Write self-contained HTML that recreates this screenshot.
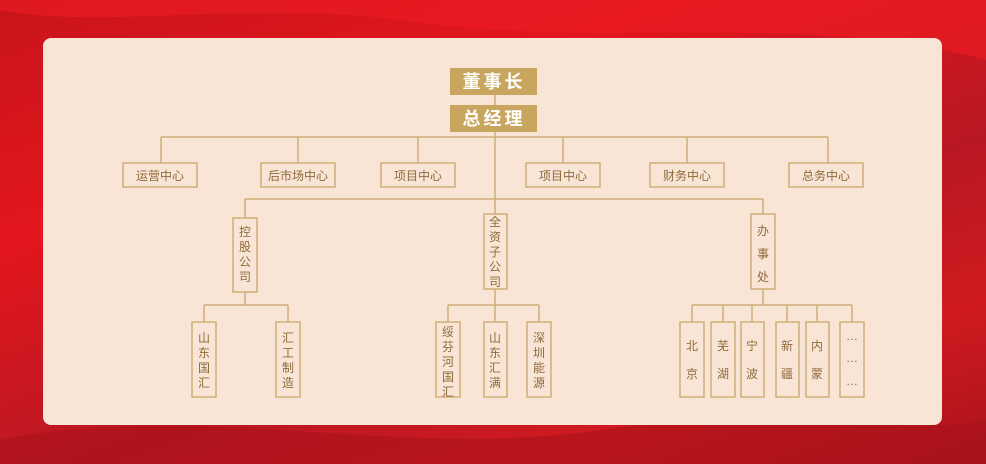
<!DOCTYPE html>
<html><head><meta charset="utf-8"><style>
html,body{margin:0;padding:0;width:986px;height:464px;overflow:hidden}
body{background:linear-gradient(160deg,#c8141c 0%,#e3161e 30%,#b81822 60%,#d01a20 80%,#a8141a 100%)}
svg{position:absolute;left:0;top:0}
text{font-family:"Liberation Sans","Noto Sans CJK SC",sans-serif;fill:#8f6a3c;font-size:12px;text-anchor:middle}
</style></head><body>
<svg width="986" height="464" viewBox="0 0 986 464">
<defs><linearGradient id="w" x1="0" y1="0" x2="1" y2="1">
<stop offset="0" stop-color="#e8202a"/><stop offset="1" stop-color="#a01016"/></linearGradient></defs>
<path d="M0,0 L986,0 L986,60 C800,10 600,50 400,20 C250,0 100,30 0,10Z" fill="#ee1c24" opacity=".6"/>
<path d="M0,440 C200,400 400,460 600,430 C800,400 900,440 986,420 L986,464 L0,464Z" fill="#a8121a" opacity=".6"/>
<rect x="43" y="38" width="899" height="387" rx="8" fill="#f9e5d5"/>
<g stroke="#cfae78" stroke-width="1.5" fill="none">
<line x1="495" y1="95" x2="495" y2="214"/>
<line x1="161" y1="137" x2="828" y2="137"/>
<line x1="161" y1="137" x2="161" y2="163"/><line x1="298" y1="137" x2="298" y2="163"/>
<line x1="418" y1="137" x2="418" y2="163"/><line x1="563" y1="137" x2="563" y2="163"/>
<line x1="687" y1="137" x2="687" y2="163"/><line x1="828" y1="137" x2="828" y2="163"/>
<line x1="245" y1="199" x2="763" y2="199"/>
<line x1="245" y1="199" x2="245" y2="218"/><line x1="763" y1="199" x2="763" y2="214"/>
<line x1="245" y1="292" x2="245" y2="305"/><line x1="204" y1="305" x2="288" y2="305"/>
<line x1="204" y1="305" x2="204" y2="322"/><line x1="288" y1="305" x2="288" y2="322"/>
<line x1="495" y1="289" x2="495" y2="322"/><line x1="448" y1="305" x2="539" y2="305"/>
<line x1="448" y1="305" x2="448" y2="322"/><line x1="539" y1="305" x2="539" y2="322"/>
<line x1="763" y1="289" x2="763" y2="305"/><line x1="692" y1="305" x2="852" y2="305"/>
<line x1="692" y1="305" x2="692" y2="322"/><line x1="723" y1="305" x2="723" y2="322"/>
<line x1="752" y1="305" x2="752" y2="322"/><line x1="787" y1="305" x2="787" y2="322"/>
<line x1="817" y1="305" x2="817" y2="322"/><line x1="852" y1="305" x2="852" y2="322"/>
<rect x="123" y="163" width="74" height="24"/><rect x="261" y="163" width="74" height="24"/>
<rect x="381" y="163" width="74" height="24"/><rect x="526" y="163" width="74" height="24"/>
<rect x="650" y="163" width="74" height="24"/><rect x="789" y="163" width="74" height="24"/>
<rect x="233" y="218" width="24" height="74"/><rect x="484" y="214" width="23" height="75"/>
<rect x="751" y="214" width="24" height="75"/>
<rect x="192" y="322" width="24" height="75"/><rect x="276" y="322" width="24" height="75"/>
<rect x="436" y="322" width="24" height="75"/><rect x="484" y="322" width="23" height="75"/>
<rect x="527" y="322" width="24" height="75"/>
<rect x="680" y="322" width="24" height="75"/><rect x="711" y="322" width="24" height="75"/>
<rect x="741" y="322" width="23" height="75"/><rect x="776" y="322" width="23" height="75"/>
<rect x="806" y="322" width="23" height="75"/><rect x="840" y="322" width="24" height="75"/>
</g>
<rect x="450" y="68" width="87" height="27" fill="#c9a660"/>
<rect x="450" y="105" width="87" height="27" fill="#c9a660"/>
<text x="494" y="88" style="fill:#fff;font-size:18px;font-weight:bold;letter-spacing:3px">董事长</text>
<text x="494" y="125" style="fill:#fff;font-size:18px;font-weight:bold;letter-spacing:3px">总经理</text>
<text x="160" y="180">运营中心</text><text x="298" y="180">后市场中心</text>
<text x="418" y="180">项目中心</text><text x="563" y="180">项目中心</text>
<text x="687" y="180">财务中心</text><text x="826" y="180">总务中心</text>
<g>
<text x="245" y="236">控</text><text x="245" y="251">股</text><text x="245" y="266">公</text><text x="245" y="281">司</text>
<text x="495" y="226">全</text><text x="495" y="241">资</text><text x="495" y="256">子</text><text x="495" y="271">公</text><text x="495" y="286">司</text>
<text x="763" y="235">办</text><text x="763" y="258">事</text><text x="763" y="281">处</text>
<text x="204" y="342">山</text><text x="204" y="357">东</text><text x="204" y="372">国</text><text x="204" y="387">汇</text>
<text x="288" y="342">汇</text><text x="288" y="357">工</text><text x="288" y="372">制</text><text x="288" y="387">造</text>
<text x="448" y="336">绥</text><text x="448" y="351">芬</text><text x="448" y="366">河</text><text x="448" y="381">国</text><text x="448" y="396">汇</text>
<text x="495" y="342">山</text><text x="495" y="357">东</text><text x="495" y="372">汇</text><text x="495" y="387">满</text>
<text x="539" y="342">深</text><text x="539" y="357">圳</text><text x="539" y="372">能</text><text x="539" y="387">源</text>
<text x="692" y="350">北</text><text x="692" y="378">京</text>
<text x="723" y="350">芜</text><text x="723" y="378">湖</text>
<text x="752" y="350">宁</text><text x="752" y="378">波</text>
<text x="787" y="350">新</text><text x="787" y="378">疆</text>
<text x="817" y="350">内</text><text x="817" y="378">蒙</text>
<text x="852" y="340">…</text><text x="852" y="362">…</text><text x="852" y="385">…</text>
</g>
</svg>
</body></html>
